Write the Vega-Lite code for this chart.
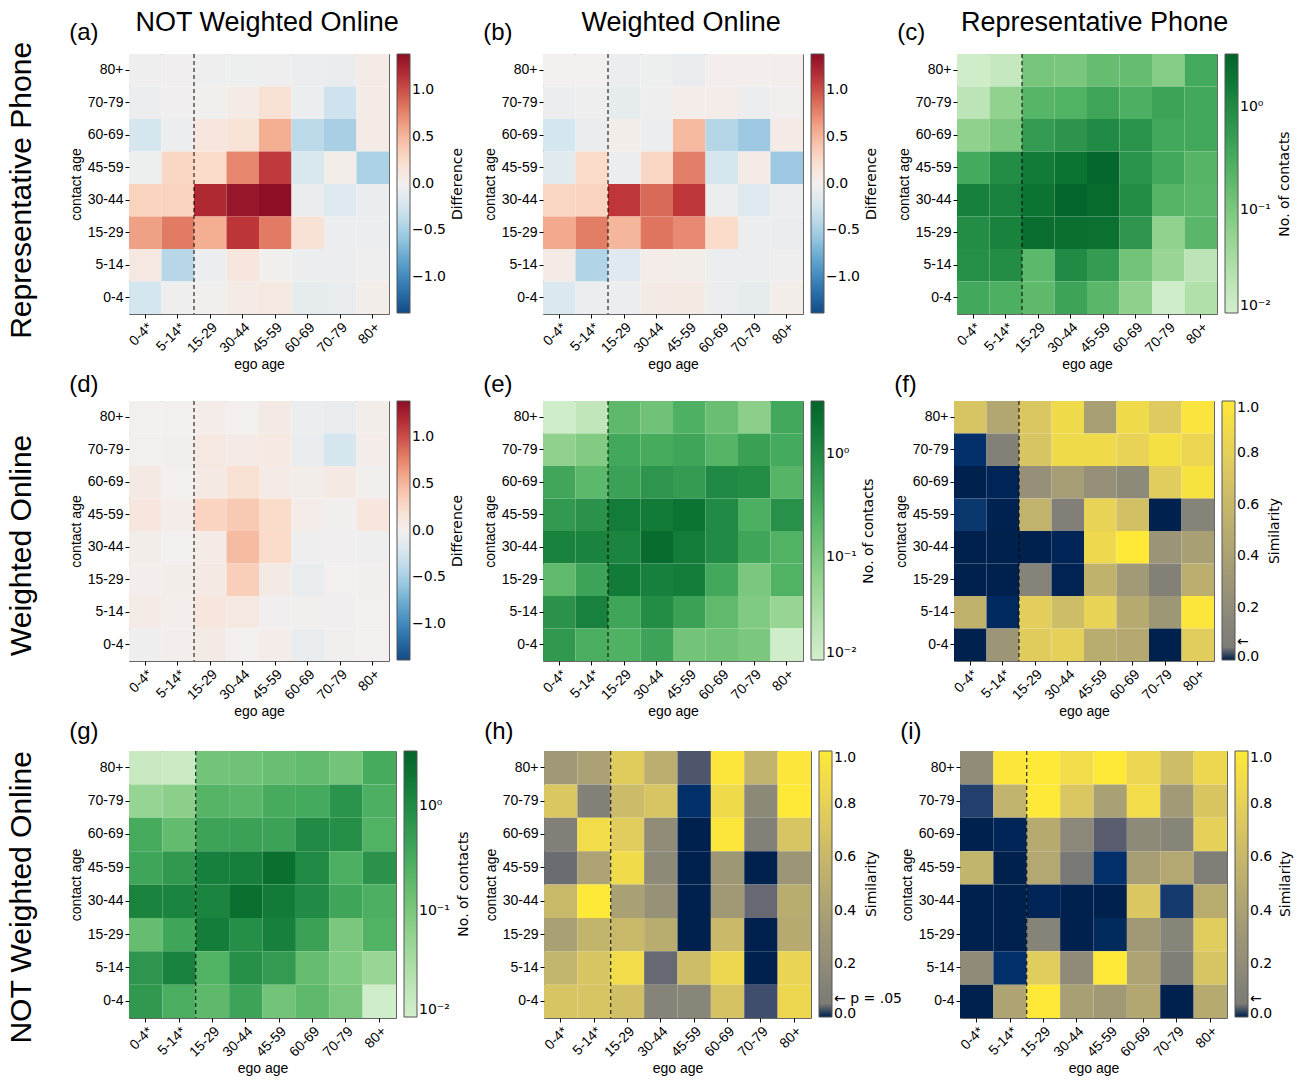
{
"$schema": "https://vega.github.io/schema/vega-lite/v6.json",
"background": "white",
"padding": {"left": 6, "top": 9, "right": 2, "bottom": 2},
"datasets": {
"a": [
{"e":"0-4*","c":"80+","v":-0.03},{"e":"5-14*","c":"80+","v":-0.02},{"e":"15-29","c":"80+","v":-0.03},{"e":"30-44","c":"80+","v":-0.04},{"e":"45-59","c":"80+","v":-0.03},{"e":"60-69","c":"80+","v":-0.05},{"e":"70-79","c":"80+","v":-0.07},{"e":"80+","c":"80+","v":0.05},
{"e":"0-4*","c":"70-79","v":-0.05},{"e":"5-14*","c":"70-79","v":-0.02},{"e":"15-29","c":"70-79","v":-0.01},{"e":"30-44","c":"70-79","v":0.05},{"e":"45-59","c":"70-79","v":0.2},{"e":"60-69","c":"70-79","v":-0.05},{"e":"70-79","c":"70-79","v":-0.3},{"e":"80+","c":"70-79","v":0.05},
{"e":"0-4*","c":"60-69","v":-0.25},{"e":"5-14*","c":"60-69","v":-0.06},{"e":"15-29","c":"60-69","v":0.13},{"e":"30-44","c":"60-69","v":0.17},{"e":"45-59","c":"60-69","v":0.55},{"e":"60-69","c":"60-69","v":-0.4},{"e":"70-79","c":"60-69","v":-0.5},{"e":"80+","c":"60-69","v":0.05},
{"e":"0-4*","c":"45-59","v":-0.04},{"e":"5-14*","c":"45-59","v":0.3},{"e":"15-29","c":"45-59","v":0.27},{"e":"30-44","c":"45-59","v":0.75},{"e":"45-59","c":"45-59","v":1.1},{"e":"60-69","c":"45-59","v":-0.22},{"e":"70-79","c":"45-59","v":0.03},{"e":"80+","c":"45-59","v":-0.48},
{"e":"0-4*","c":"30-44","v":0.33},{"e":"5-14*","c":"30-44","v":0.33},{"e":"15-29","c":"30-44","v":1.2},{"e":"30-44","c":"30-44","v":1.32},{"e":"45-59","c":"30-44","v":1.38},{"e":"60-69","c":"30-44","v":-0.07},{"e":"70-79","c":"30-44","v":-0.18},{"e":"80+","c":"30-44","v":-0.07},
{"e":"0-4*","c":"15-29","v":0.62},{"e":"5-14*","c":"15-29","v":0.8},{"e":"15-29","c":"15-29","v":0.55},{"e":"30-44","c":"15-29","v":1.12},{"e":"45-59","c":"15-29","v":0.8},{"e":"60-69","c":"15-29","v":0.18},{"e":"70-79","c":"15-29","v":-0.05},{"e":"80+","c":"15-29","v":-0.06},
{"e":"0-4*","c":"5-14","v":0.1},{"e":"5-14*","c":"5-14","v":-0.42},{"e":"15-29","c":"5-14","v":-0.05},{"e":"30-44","c":"5-14","v":0.13},{"e":"45-59","c":"5-14","v":-0.01},{"e":"60-69","c":"5-14","v":-0.06},{"e":"70-79","c":"5-14","v":-0.06},{"e":"80+","c":"5-14","v":-0.03},
{"e":"0-4*","c":"0-4","v":-0.26},{"e":"5-14*","c":"0-4","v":-0.03},{"e":"15-29","c":"0-4","v":-0.01},{"e":"30-44","c":"0-4","v":0.06},{"e":"45-59","c":"0-4","v":0.1},{"e":"60-69","c":"0-4","v":-0.1},{"e":"70-79","c":"0-4","v":-0.08},{"e":"80+","c":"0-4","v":0.03}
],
"b": [
{"e":"0-4*","c":"80+","v":0.0},{"e":"5-14*","c":"80+","v":0.0},{"e":"15-29","c":"80+","v":-0.06},{"e":"30-44","c":"80+","v":-0.04},{"e":"45-59","c":"80+","v":-0.08},{"e":"60-69","c":"80+","v":0.02},{"e":"70-79","c":"80+","v":0.02},{"e":"80+","c":"80+","v":0.02},
{"e":"0-4*","c":"70-79","v":-0.05},{"e":"5-14*","c":"70-79","v":-0.03},{"e":"15-29","c":"70-79","v":-0.1},{"e":"30-44","c":"70-79","v":-0.03},{"e":"45-59","c":"70-79","v":0.04},{"e":"60-69","c":"70-79","v":0.04},{"e":"70-79","c":"70-79","v":-0.05},{"e":"80+","c":"70-79","v":0.01},
{"e":"0-4*","c":"60-69","v":-0.26},{"e":"5-14*","c":"60-69","v":-0.07},{"e":"15-29","c":"60-69","v":0.03},{"e":"30-44","c":"60-69","v":-0.05},{"e":"45-59","c":"60-69","v":0.48},{"e":"60-69","c":"60-69","v":-0.43},{"e":"70-79","c":"60-69","v":-0.56},{"e":"80+","c":"60-69","v":0.05},
{"e":"0-4*","c":"45-59","v":-0.15},{"e":"5-14*","c":"45-59","v":0.28},{"e":"15-29","c":"45-59","v":-0.05},{"e":"30-44","c":"45-59","v":0.3},{"e":"45-59","c":"45-59","v":0.78},{"e":"60-69","c":"45-59","v":-0.25},{"e":"70-79","c":"45-59","v":0.05},{"e":"80+","c":"45-59","v":-0.56},
{"e":"0-4*","c":"30-44","v":0.3},{"e":"5-14*","c":"30-44","v":0.33},{"e":"15-29","c":"30-44","v":1.11},{"e":"30-44","c":"30-44","v":0.88},{"e":"45-59","c":"30-44","v":1.11},{"e":"60-69","c":"30-44","v":-0.06},{"e":"70-79","c":"30-44","v":-0.17},{"e":"80+","c":"30-44","v":-0.06},
{"e":"0-4*","c":"15-29","v":0.58},{"e":"5-14*","c":"15-29","v":0.79},{"e":"15-29","c":"15-29","v":0.5},{"e":"30-44","c":"15-29","v":0.83},{"e":"45-59","c":"15-29","v":0.73},{"e":"60-69","c":"15-29","v":0.27},{"e":"70-79","c":"15-29","v":-0.05},{"e":"80+","c":"15-29","v":-0.07},
{"e":"0-4*","c":"5-14","v":0.05},{"e":"5-14*","c":"5-14","v":-0.45},{"e":"15-29","c":"5-14","v":-0.16},{"e":"30-44","c":"5-14","v":0.04},{"e":"45-59","c":"5-14","v":0.03},{"e":"60-69","c":"5-14","v":-0.05},{"e":"70-79","c":"5-14","v":-0.05},{"e":"80+","c":"5-14","v":-0.03},
{"e":"0-4*","c":"0-4","v":-0.2},{"e":"5-14*","c":"0-4","v":-0.05},{"e":"15-29","c":"0-4","v":-0.06},{"e":"30-44","c":"0-4","v":0.07},{"e":"45-59","c":"0-4","v":0.08},{"e":"60-69","c":"0-4","v":-0.06},{"e":"70-79","c":"0-4","v":-0.1},{"e":"80+","c":"0-4","v":0.03}
],
"c": [
{"e":"0-4*","c":"80+","v":0.011},{"e":"5-14*","c":"80+","v":0.015},{"e":"15-29","c":"80+","v":0.11},{"e":"30-44","c":"80+","v":0.105},{"e":"45-59","c":"80+","v":0.16},{"e":"60-69","c":"80+","v":0.16},{"e":"70-79","c":"80+","v":0.08},{"e":"80+","c":"80+","v":0.35},
{"e":"0-4*","c":"70-79","v":0.02},{"e":"5-14*","c":"70-79","v":0.06},{"e":"15-29","c":"70-79","v":0.22},{"e":"30-44","c":"70-79","v":0.25},{"e":"45-59","c":"70-79","v":0.4},{"e":"60-69","c":"70-79","v":0.28},{"e":"70-79","c":"70-79","v":0.42},{"e":"80+","c":"70-79","v":0.36},
{"e":"0-4*","c":"60-69","v":0.062},{"e":"5-14*","c":"60-69","v":0.1},{"e":"15-29","c":"60-69","v":0.55},{"e":"30-44","c":"60-69","v":0.7},{"e":"45-59","c":"60-69","v":1.0},{"e":"60-69","c":"60-69","v":0.72},{"e":"70-79","c":"60-69","v":0.36},{"e":"80+","c":"60-69","v":0.36},
{"e":"0-4*","c":"45-59","v":0.34},{"e":"5-14*","c":"45-59","v":0.95},{"e":"15-29","c":"45-59","v":1.6},{"e":"30-44","c":"45-59","v":2.0},{"e":"45-59","c":"45-59","v":3.0},{"e":"60-69","c":"45-59","v":0.72},{"e":"70-79","c":"45-59","v":0.36},{"e":"80+","c":"45-59","v":0.23},
{"e":"0-4*","c":"30-44","v":1.4},{"e":"5-14*","c":"30-44","v":1.35},{"e":"15-29","c":"30-44","v":2.0},{"e":"30-44","c":"30-44","v":3.2},{"e":"45-59","c":"30-44","v":2.7},{"e":"60-69","c":"30-44","v":0.95},{"e":"70-79","c":"30-44","v":0.23},{"e":"80+","c":"30-44","v":0.21},
{"e":"0-4*","c":"15-29","v":0.95},{"e":"5-14*","c":"15-29","v":1.3},{"e":"15-29","c":"15-29","v":2.4},{"e":"30-44","c":"15-29","v":2.3},{"e":"45-59","c":"15-29","v":2.25},{"e":"60-69","c":"15-29","v":0.68},{"e":"70-79","c":"15-29","v":0.06},{"e":"80+","c":"15-29","v":0.21},
{"e":"0-4*","c":"5-14","v":0.85},{"e":"5-14*","c":"5-14","v":0.95},{"e":"15-29","c":"5-14","v":0.2},{"e":"30-44","c":"5-14","v":1.0},{"e":"45-59","c":"5-14","v":0.55},{"e":"60-69","c":"5-14","v":0.12},{"e":"70-79","c":"5-14","v":0.05},{"e":"80+","c":"5-14","v":0.02},
{"e":"0-4*","c":"0-4","v":0.36},{"e":"5-14*","c":"0-4","v":0.28},{"e":"15-29","c":"0-4","v":0.19},{"e":"30-44","c":"0-4","v":0.42},{"e":"45-59","c":"0-4","v":0.21},{"e":"60-69","c":"0-4","v":0.065},{"e":"70-79","c":"0-4","v":0.011},{"e":"80+","c":"0-4","v":0.027}
],
"d": [
{"e":"0-4*","c":"80+","v":0.0},{"e":"5-14*","c":"80+","v":0.0},{"e":"15-29","c":"80+","v":0.04},{"e":"30-44","c":"80+","v":0.0},{"e":"45-59","c":"80+","v":0.07},{"e":"60-69","c":"80+","v":-0.05},{"e":"70-79","c":"80+","v":-0.08},{"e":"80+","c":"80+","v":0.03},
{"e":"0-4*","c":"70-79","v":0.0},{"e":"5-14*","c":"70-79","v":0.01},{"e":"15-29","c":"70-79","v":0.1},{"e":"30-44","c":"70-79","v":0.06},{"e":"45-59","c":"70-79","v":0.09},{"e":"60-69","c":"70-79","v":-0.09},{"e":"70-79","c":"70-79","v":-0.25},{"e":"80+","c":"70-79","v":0.04},
{"e":"0-4*","c":"60-69","v":0.08},{"e":"5-14*","c":"60-69","v":0.0},{"e":"15-29","c":"60-69","v":0.08},{"e":"30-44","c":"60-69","v":0.2},{"e":"45-59","c":"60-69","v":0.05},{"e":"60-69","c":"60-69","v":0.03},{"e":"70-79","c":"60-69","v":0.08},{"e":"80+","c":"60-69","v":-0.01},
{"e":"0-4*","c":"45-59","v":0.12},{"e":"5-14*","c":"45-59","v":0.04},{"e":"15-29","c":"45-59","v":0.32},{"e":"30-44","c":"45-59","v":0.38},{"e":"45-59","c":"45-59","v":0.26},{"e":"60-69","c":"45-59","v":0.04},{"e":"70-79","c":"45-59","v":-0.01},{"e":"80+","c":"45-59","v":0.12},
{"e":"0-4*","c":"30-44","v":0.03},{"e":"5-14*","c":"30-44","v":0.0},{"e":"15-29","c":"30-44","v":0.06},{"e":"30-44","c":"30-44","v":0.47},{"e":"45-59","c":"30-44","v":0.28},{"e":"60-69","c":"30-44","v":-0.03},{"e":"70-79","c":"30-44","v":-0.02},{"e":"80+","c":"30-44","v":-0.03},
{"e":"0-4*","c":"15-29","v":0.02},{"e":"5-14*","c":"15-29","v":0.03},{"e":"15-29","c":"15-29","v":0.08},{"e":"30-44","c":"15-29","v":0.35},{"e":"45-59","c":"15-29","v":0.07},{"e":"60-69","c":"15-29","v":-0.09},{"e":"70-79","c":"15-29","v":0.0},{"e":"80+","c":"15-29","v":0.01},
{"e":"0-4*","c":"5-14","v":0.05},{"e":"5-14*","c":"5-14","v":0.02},{"e":"15-29","c":"5-14","v":0.12},{"e":"30-44","c":"5-14","v":0.1},{"e":"45-59","c":"5-14","v":-0.02},{"e":"60-69","c":"5-14","v":-0.01},{"e":"70-79","c":"5-14","v":-0.02},{"e":"80+","c":"5-14","v":0.0},
{"e":"0-4*","c":"0-4","v":-0.03},{"e":"5-14*","c":"0-4","v":0.02},{"e":"15-29","c":"0-4","v":0.07},{"e":"30-44","c":"0-4","v":0.0},{"e":"45-59","c":"0-4","v":0.04},{"e":"60-69","c":"0-4","v":-0.08},{"e":"70-79","c":"0-4","v":-0.01},{"e":"80+","c":"0-4","v":0.0}
],
"e": [
{"e":"0-4*","c":"80+","v":0.011},{"e":"5-14*","c":"80+","v":0.018},{"e":"15-29","c":"80+","v":0.19},{"e":"30-44","c":"80+","v":0.13},{"e":"45-59","c":"80+","v":0.27},{"e":"60-69","c":"80+","v":0.15},{"e":"70-79","c":"80+","v":0.07},{"e":"80+","c":"80+","v":0.36},
{"e":"0-4*","c":"70-79","v":0.062},{"e":"5-14*","c":"70-79","v":0.085},{"e":"15-29","c":"70-79","v":0.36},{"e":"30-44","c":"70-79","v":0.32},{"e":"45-59","c":"70-79","v":0.4},{"e":"60-69","c":"70-79","v":0.23},{"e":"70-79","c":"70-79","v":0.47},{"e":"80+","c":"70-79","v":0.34},
{"e":"0-4*","c":"60-69","v":0.38},{"e":"5-14*","c":"60-69","v":0.2},{"e":"15-29","c":"60-69","v":0.46},{"e":"30-44","c":"60-69","v":0.68},{"e":"45-59","c":"60-69","v":0.55},{"e":"60-69","c":"60-69","v":1.05},{"e":"70-79","c":"60-69","v":0.95},{"e":"80+","c":"60-69","v":0.23},
{"e":"0-4*","c":"45-59","v":0.6},{"e":"5-14*","c":"45-59","v":0.75},{"e":"15-29","c":"45-59","v":1.55},{"e":"30-44","c":"45-59","v":1.6},{"e":"45-59","c":"45-59","v":2.0},{"e":"60-69","c":"45-59","v":1.0},{"e":"70-79","c":"45-59","v":0.28},{"e":"80+","c":"45-59","v":0.8},
{"e":"0-4*","c":"30-44","v":1.3},{"e":"5-14*","c":"30-44","v":1.25},{"e":"15-29","c":"30-44","v":1.2},{"e":"30-44","c":"30-44","v":2.6},{"e":"45-59","c":"30-44","v":1.55},{"e":"60-69","c":"30-44","v":1.0},{"e":"70-79","c":"30-44","v":0.4},{"e":"80+","c":"30-44","v":0.25},
{"e":"0-4*","c":"15-29","v":0.18},{"e":"5-14*","c":"15-29","v":0.42},{"e":"15-29","c":"15-29","v":1.6},{"e":"30-44","c":"15-29","v":1.4},{"e":"45-59","c":"15-29","v":1.5},{"e":"60-69","c":"15-29","v":0.36},{"e":"70-79","c":"15-29","v":0.1},{"e":"80+","c":"15-29","v":0.25},
{"e":"0-4*","c":"5-14","v":0.75},{"e":"5-14*","c":"5-14","v":1.35},{"e":"15-29","c":"5-14","v":0.4},{"e":"30-44","c":"5-14","v":0.95},{"e":"45-59","c":"5-14","v":0.46},{"e":"60-69","c":"5-14","v":0.18},{"e":"70-79","c":"5-14","v":0.09},{"e":"80+","c":"5-14","v":0.052},
{"e":"0-4*","c":"0-4","v":0.62},{"e":"5-14*","c":"0-4","v":0.3},{"e":"15-29","c":"0-4","v":0.26},{"e":"30-44","c":"0-4","v":0.42},{"e":"45-59","c":"0-4","v":0.12},{"e":"60-69","c":"0-4","v":0.13},{"e":"70-79","c":"0-4","v":0.1},{"e":"80+","c":"0-4","v":0.011}
],
"f": [
{"e":"0-4*","c":"80+","v":0.7},{"e":"5-14*","c":"80+","v":0.45},{"e":"15-29","c":"80+","v":0.72},{"e":"30-44","c":"80+","v":0.88},{"e":"45-59","c":"80+","v":0.38},{"e":"60-69","c":"80+","v":0.88},{"e":"70-79","c":"80+","v":0.75},{"e":"80+","c":"80+","v":0.97},
{"e":"0-4*","c":"70-79","v":0.009},{"e":"5-14*","c":"70-79","v":0.1},{"e":"15-29","c":"70-79","v":0.7},{"e":"30-44","c":"70-79","v":0.88},{"e":"45-59","c":"70-79","v":0.88},{"e":"60-69","c":"70-79","v":0.82},{"e":"70-79","c":"70-79","v":0.93},{"e":"80+","c":"70-79","v":0.85},
{"e":"0-4*","c":"60-69","v":0.0},{"e":"5-14*","c":"60-69","v":0.003},{"e":"15-29","c":"60-69","v":0.24},{"e":"30-44","c":"60-69","v":0.37},{"e":"45-59","c":"60-69","v":0.24},{"e":"60-69","c":"60-69","v":0.18},{"e":"70-79","c":"60-69","v":0.77},{"e":"80+","c":"60-69","v":0.95},
{"e":"0-4*","c":"45-59","v":0.013},{"e":"5-14*","c":"45-59","v":0.001},{"e":"15-29","c":"45-59","v":0.56},{"e":"30-44","c":"45-59","v":0.08},{"e":"45-59","c":"45-59","v":0.82},{"e":"60-69","c":"45-59","v":0.67},{"e":"70-79","c":"45-59","v":0.0},{"e":"80+","c":"45-59","v":0.12},
{"e":"0-4*","c":"30-44","v":0.0},{"e":"5-14*","c":"30-44","v":0.0},{"e":"15-29","c":"30-44","v":0.0},{"e":"30-44","c":"30-44","v":0.003},{"e":"45-59","c":"30-44","v":0.87},{"e":"60-69","c":"30-44","v":1.0},{"e":"70-79","c":"30-44","v":0.28},{"e":"80+","c":"30-44","v":0.38},
{"e":"0-4*","c":"15-29","v":0.0},{"e":"5-14*","c":"15-29","v":0.0},{"e":"15-29","c":"15-29","v":0.12},{"e":"30-44","c":"15-29","v":0.002},{"e":"45-59","c":"15-29","v":0.55},{"e":"60-69","c":"15-29","v":0.34},{"e":"70-79","c":"15-29","v":0.1},{"e":"80+","c":"15-29","v":0.52},
{"e":"0-4*","c":"5-14","v":0.55},{"e":"5-14*","c":"5-14","v":0.006},{"e":"15-29","c":"5-14","v":0.78},{"e":"30-44","c":"5-14","v":0.64},{"e":"45-59","c":"5-14","v":0.82},{"e":"60-69","c":"5-14","v":0.48},{"e":"70-79","c":"5-14","v":0.31},{"e":"80+","c":"5-14","v":0.98},
{"e":"0-4*","c":"0-4","v":0.0},{"e":"5-14*","c":"0-4","v":0.29},{"e":"15-29","c":"0-4","v":0.76},{"e":"30-44","c":"0-4","v":0.8},{"e":"45-59","c":"0-4","v":0.5},{"e":"60-69","c":"0-4","v":0.47},{"e":"70-79","c":"0-4","v":0.0},{"e":"80+","c":"0-4","v":0.77}
],
"g": [
{"e":"0-4*","c":"80+","v":0.014},{"e":"5-14*","c":"80+","v":0.013},{"e":"15-29","c":"80+","v":0.12},{"e":"30-44","c":"80+","v":0.13},{"e":"45-59","c":"80+","v":0.15},{"e":"60-69","c":"80+","v":0.17},{"e":"70-79","c":"80+","v":0.12},{"e":"80+","c":"80+","v":0.32},
{"e":"0-4*","c":"70-79","v":0.055},{"e":"5-14*","c":"70-79","v":0.07},{"e":"15-29","c":"70-79","v":0.23},{"e":"30-44","c":"70-79","v":0.21},{"e":"45-59","c":"70-79","v":0.32},{"e":"60-69","c":"70-79","v":0.34},{"e":"70-79","c":"70-79","v":0.72},{"e":"80+","c":"70-79","v":0.28},
{"e":"0-4*","c":"60-69","v":0.32},{"e":"5-14*","c":"60-69","v":0.17},{"e":"15-29","c":"60-69","v":0.42},{"e":"30-44","c":"60-69","v":0.46},{"e":"45-59","c":"60-69","v":0.44},{"e":"60-69","c":"60-69","v":1.0},{"e":"70-79","c":"60-69","v":0.88},{"e":"80+","c":"60-69","v":0.25},
{"e":"0-4*","c":"45-59","v":0.4},{"e":"5-14*","c":"45-59","v":0.62},{"e":"15-29","c":"45-59","v":1.4},{"e":"30-44","c":"45-59","v":1.45},{"e":"45-59","c":"45-59","v":2.3},{"e":"60-69","c":"45-59","v":1.0},{"e":"70-79","c":"45-59","v":0.28},{"e":"80+","c":"45-59","v":0.76},
{"e":"0-4*","c":"30-44","v":1.25},{"e":"5-14*","c":"30-44","v":1.2},{"e":"15-29","c":"30-44","v":1.2},{"e":"30-44","c":"30-44","v":2.3},{"e":"45-59","c":"30-44","v":1.6},{"e":"60-69","c":"30-44","v":1.0},{"e":"70-79","c":"30-44","v":0.4},{"e":"80+","c":"30-44","v":0.28},
{"e":"0-4*","c":"15-29","v":0.16},{"e":"5-14*","c":"15-29","v":0.4},{"e":"15-29","c":"15-29","v":1.5},{"e":"30-44","c":"15-29","v":0.88},{"e":"45-59","c":"15-29","v":1.4},{"e":"60-69","c":"15-29","v":0.45},{"e":"70-79","c":"15-29","v":0.1},{"e":"80+","c":"15-29","v":0.25},
{"e":"0-4*","c":"5-14","v":0.68},{"e":"5-14*","c":"5-14","v":1.35},{"e":"15-29","c":"5-14","v":0.25},{"e":"30-44","c":"5-14","v":0.85},{"e":"45-59","c":"5-14","v":0.58},{"e":"60-69","c":"5-14","v":0.16},{"e":"70-79","c":"5-14","v":0.09},{"e":"80+","c":"5-14","v":0.05},
{"e":"0-4*","c":"0-4","v":0.62},{"e":"5-14*","c":"0-4","v":0.3},{"e":"15-29","c":"0-4","v":0.19},{"e":"30-44","c":"0-4","v":0.42},{"e":"45-59","c":"0-4","v":0.12},{"e":"60-69","c":"0-4","v":0.19},{"e":"70-79","c":"0-4","v":0.1},{"e":"80+","c":"0-4","v":0.011}
],
"h": [
{"e":"0-4*","c":"80+","v":0.32},{"e":"5-14*","c":"80+","v":0.4},{"e":"15-29","c":"80+","v":0.76},{"e":"30-44","c":"80+","v":0.52},{"e":"45-59","c":"80+","v":0.03},{"e":"60-69","c":"80+","v":0.98},{"e":"70-79","c":"80+","v":0.56},{"e":"80+","c":"80+","v":0.98},
{"e":"0-4*","c":"70-79","v":0.72},{"e":"5-14*","c":"70-79","v":0.09},{"e":"15-29","c":"70-79","v":0.63},{"e":"30-44","c":"70-79","v":0.7},{"e":"45-59","c":"70-79","v":0.009},{"e":"60-69","c":"70-79","v":0.88},{"e":"70-79","c":"70-79","v":0.17},{"e":"80+","c":"70-79","v":1.0},
{"e":"0-4*","c":"60-69","v":0.08},{"e":"5-14*","c":"60-69","v":0.9},{"e":"15-29","c":"60-69","v":0.77},{"e":"30-44","c":"60-69","v":0.2},{"e":"45-59","c":"60-69","v":0.0},{"e":"60-69","c":"60-69","v":0.98},{"e":"70-79","c":"60-69","v":0.1},{"e":"80+","c":"60-69","v":0.7},
{"e":"0-4*","c":"45-59","v":0.042},{"e":"5-14*","c":"45-59","v":0.41},{"e":"15-29","c":"45-59","v":0.89},{"e":"30-44","c":"45-59","v":0.18},{"e":"45-59","c":"45-59","v":0.0},{"e":"60-69","c":"45-59","v":0.31},{"e":"70-79","c":"45-59","v":0.0},{"e":"80+","c":"45-59","v":0.3},
{"e":"0-4*","c":"30-44","v":0.6},{"e":"5-14*","c":"30-44","v":1.0},{"e":"15-29","c":"30-44","v":0.39},{"e":"30-44","c":"30-44","v":0.25},{"e":"45-59","c":"30-44","v":0.0},{"e":"60-69","c":"30-44","v":0.33},{"e":"70-79","c":"30-44","v":0.04},{"e":"80+","c":"30-44","v":0.5},
{"e":"0-4*","c":"15-29","v":0.39},{"e":"5-14*","c":"15-29","v":0.57},{"e":"15-29","c":"15-29","v":0.6},{"e":"30-44","c":"15-29","v":0.5},{"e":"45-59","c":"15-29","v":0.0},{"e":"60-69","c":"15-29","v":0.61},{"e":"70-79","c":"15-29","v":0.0},{"e":"80+","c":"15-29","v":0.48},
{"e":"0-4*","c":"5-14","v":0.58},{"e":"5-14*","c":"5-14","v":0.7},{"e":"15-29","c":"5-14","v":0.9},{"e":"30-44","c":"5-14","v":0.04},{"e":"45-59","c":"5-14","v":0.64},{"e":"60-69","c":"5-14","v":0.86},{"e":"70-79","c":"5-14","v":0.0},{"e":"80+","c":"5-14","v":0.83},
{"e":"0-4*","c":"0-4","v":0.7},{"e":"5-14*","c":"0-4","v":0.7},{"e":"15-29","c":"0-4","v":0.66},{"e":"30-44","c":"0-4","v":0.12},{"e":"45-59","c":"0-4","v":0.14},{"e":"60-69","c":"0-4","v":0.69},{"e":"70-79","c":"0-4","v":0.025},{"e":"80+","c":"0-4","v":0.86}
],
"i": [
{"e":"0-4*","c":"80+","v":0.2},{"e":"5-14*","c":"80+","v":0.98},{"e":"15-29","c":"80+","v":1.0},{"e":"30-44","c":"80+","v":0.9},{"e":"45-59","c":"80+","v":1.0},{"e":"60-69","c":"80+","v":0.85},{"e":"70-79","c":"80+","v":0.64},{"e":"80+","c":"80+","v":0.86},
{"e":"0-4*","c":"70-79","v":0.018},{"e":"5-14*","c":"70-79","v":0.56},{"e":"15-29","c":"70-79","v":1.0},{"e":"30-44","c":"70-79","v":0.72},{"e":"45-59","c":"70-79","v":0.39},{"e":"60-69","c":"70-79","v":0.9},{"e":"70-79","c":"70-79","v":0.34},{"e":"80+","c":"70-79","v":0.71},
{"e":"0-4*","c":"60-69","v":0.0},{"e":"5-14*","c":"60-69","v":0.003},{"e":"15-29","c":"60-69","v":0.48},{"e":"30-44","c":"60-69","v":0.16},{"e":"45-59","c":"60-69","v":0.034},{"e":"60-69","c":"60-69","v":0.18},{"e":"70-79","c":"60-69","v":0.13},{"e":"80+","c":"60-69","v":0.8},
{"e":"0-4*","c":"45-59","v":0.57},{"e":"5-14*","c":"45-59","v":0.0},{"e":"15-29","c":"45-59","v":0.46},{"e":"30-44","c":"45-59","v":0.048},{"e":"45-59","c":"45-59","v":0.009},{"e":"60-69","c":"45-59","v":0.37},{"e":"70-79","c":"45-59","v":0.46},{"e":"80+","c":"45-59","v":0.06},
{"e":"0-4*","c":"30-44","v":0.0},{"e":"5-14*","c":"30-44","v":0.0},{"e":"15-29","c":"30-44","v":0.003},{"e":"30-44","c":"30-44","v":0.0},{"e":"45-59","c":"30-44","v":0.0},{"e":"60-69","c":"30-44","v":0.72},{"e":"70-79","c":"30-44","v":0.015},{"e":"80+","c":"30-44","v":0.5},
{"e":"0-4*","c":"15-29","v":0.0},{"e":"5-14*","c":"15-29","v":0.0},{"e":"15-29","c":"15-29","v":0.12},{"e":"30-44","c":"15-29","v":0.0},{"e":"45-59","c":"15-29","v":0.005},{"e":"60-69","c":"15-29","v":0.33},{"e":"70-79","c":"15-29","v":0.13},{"e":"80+","c":"15-29","v":0.77},
{"e":"0-4*","c":"5-14","v":0.19},{"e":"5-14*","c":"5-14","v":0.009},{"e":"15-29","c":"5-14","v":0.77},{"e":"30-44","c":"5-14","v":0.19},{"e":"45-59","c":"5-14","v":1.0},{"e":"60-69","c":"5-14","v":0.42},{"e":"70-79","c":"5-14","v":0.07},{"e":"80+","c":"5-14","v":0.7},
{"e":"0-4*","c":"0-4","v":0.0},{"e":"5-14*","c":"0-4","v":0.42},{"e":"15-29","c":"0-4","v":1.0},{"e":"30-44","c":"0-4","v":0.38},{"e":"45-59","c":"0-4","v":0.33},{"e":"60-69","c":"0-4","v":0.45},{"e":"70-79","c":"0-4","v":0.0},{"e":"80+","c":"0-4","v":0.48}
]
},
"spacing": 0,
"resolve": {"scale": {"color": "independent", "x": "independent", "y": "independent"}, "legend": {"color": "independent"}},
"vconcat": [
{
"title": {"text": "Representative Phone", "orient": "left", "anchor": "middle", "frame": "bounds", "fontSize": 30, "offset": 32},
"spacing": 16,
"resolve": {"scale": {"color": "independent", "x": "independent", "y": "independent"}, "legend": {"color": "independent"}},
"hconcat": [
{"title": {"text": "NOT Weighted Online", "anchor": "middle", "fontSize": 27, "offset": -17}, "resolve": {"scale": {"color": "independent"}, "legend": {"color": "independent"}},
 "vconcat": [
 {"title": {"text": "(a)", "offset": 9}, "width": 260, "height": 260, "layer": [
  {"data": {"name": "a"}, "mark": "rect", "encoding": {
   "x": {"field": "e", "type": "nominal", "title": "ego age", "sort": ["0-4*","5-14*","15-29","30-44","45-59","60-69","70-79","80+"], "scale": {"paddingInner": 0, "paddingOuter": 0}},
   "y": {"field": "c", "type": "nominal", "title": "contact age", "sort": ["80+","70-79","60-69","45-59","30-44","15-29","5-14","0-4"], "scale": {"paddingInner": 0, "paddingOuter": 0}},
   "color": {"field": "v", "type": "quantitative", "scale": {"domain": [-1.39, 1.39], "scheme": {"name": "redblue", "extent": [1, 0]}}, "legend": {"title": "Difference", "encode": {"title": {"update": {"angle": {"value": -90}, "dy": {"value": 14}}}}, "values": [-1, -0.5, 0, 0.5, 1], "labelExpr": "replace(format(datum.value, '.1f'), '-', '−')"}}}},
  {"data": {"values": [{}]}, "mark": {"type": "rule", "color": "black", "strokeDash": [4, 3], "strokeWidth": 1}, "encoding": {"x": {"datum": "15-29", "type": "nominal", "bandPosition": 0}}}
 ]}
 ]},
{"title": {"text": "Weighted Online", "anchor": "middle", "fontSize": 27, "offset": -17}, "resolve": {"scale": {"color": "independent"}, "legend": {"color": "independent"}},
 "vconcat": [
 {"title": {"text": "(b)", "offset": 9}, "width": 260, "height": 260, "layer": [
  {"data": {"name": "b"}, "mark": "rect", "encoding": {
   "x": {"field": "e", "type": "nominal", "title": "ego age", "sort": ["0-4*","5-14*","15-29","30-44","45-59","60-69","70-79","80+"], "scale": {"paddingInner": 0, "paddingOuter": 0}},
   "y": {"field": "c", "type": "nominal", "title": "contact age", "sort": ["80+","70-79","60-69","45-59","30-44","15-29","5-14","0-4"], "scale": {"paddingInner": 0, "paddingOuter": 0}},
   "color": {"field": "v", "type": "quantitative", "scale": {"domain": [-1.39, 1.39], "scheme": {"name": "redblue", "extent": [1, 0]}}, "legend": {"title": "Difference", "encode": {"title": {"update": {"angle": {"value": -90}, "dy": {"value": 14}}}}, "values": [-1, -0.5, 0, 0.5, 1], "labelExpr": "replace(format(datum.value, '.1f'), '-', '−')"}}}},
  {"data": {"values": [{}]}, "mark": {"type": "rule", "color": "black", "strokeDash": [4, 3], "strokeWidth": 1}, "encoding": {"x": {"datum": "15-29", "type": "nominal", "bandPosition": 0}}}
 ]}
 ]},
{"title": {"text": "Representative Phone", "anchor": "middle", "fontSize": 27, "offset": -17}, "resolve": {"scale": {"color": "independent"}, "legend": {"color": "independent"}},
 "vconcat": [
 {"title": {"text": "(c)", "offset": 9}, "width": 260, "height": 260, "layer": [
  {"data": {"name": "c"}, "mark": "rect", "encoding": {
   "x": {"field": "e", "type": "nominal", "title": "ego age", "sort": ["0-4*","5-14*","15-29","30-44","45-59","60-69","70-79","80+"], "scale": {"paddingInner": 0, "paddingOuter": 0}},
   "y": {"field": "c", "type": "nominal", "title": "contact age", "sort": ["80+","70-79","60-69","45-59","30-44","15-29","5-14","0-4"], "scale": {"paddingInner": 0, "paddingOuter": 0}},
   "color": {"field": "v", "type": "quantitative", "scale": {"type": "log", "domain": [0.01, 3.3], "scheme": "greens"}, "legend": {"title": "No. of contacts", "encode": {"title": {"update": {"angle": {"value": -90}, "dy": {"value": 16}}}}, "values": [0.01, 0.1, 1], "labelExpr": "datum.value < 0.05 ? '10⁻²' : datum.value < 0.5 ? '10⁻¹' : '10⁰'"}}}},
  {"data": {"values": [{}]}, "mark": {"type": "rule", "color": "black", "strokeDash": [4, 3], "strokeWidth": 1}, "encoding": {"x": {"datum": "15-29", "type": "nominal", "bandPosition": 0}}}
 ]}
 ]}
]
},
{
"title": {"text": "Weighted Online", "orient": "left", "anchor": "middle", "frame": "bounds", "fontSize": 30, "offset": 32},
"spacing": 16,
"resolve": {"scale": {"color": "independent", "x": "independent", "y": "independent"}, "legend": {"color": "independent"}},
"hconcat": [
 {"title": {"text": "(d)"}, "width": 260, "height": 260, "layer": [
  {"data": {"name": "d"}, "mark": "rect", "encoding": {
   "x": {"field": "e", "type": "nominal", "title": "ego age", "sort": ["0-4*","5-14*","15-29","30-44","45-59","60-69","70-79","80+"], "scale": {"paddingInner": 0, "paddingOuter": 0}},
   "y": {"field": "c", "type": "nominal", "title": "contact age", "sort": ["80+","70-79","60-69","45-59","30-44","15-29","5-14","0-4"], "scale": {"paddingInner": 0, "paddingOuter": 0}},
   "color": {"field": "v", "type": "quantitative", "scale": {"domain": [-1.39, 1.39], "scheme": {"name": "redblue", "extent": [1, 0]}}, "legend": {"title": "Difference", "encode": {"title": {"update": {"angle": {"value": -90}, "dy": {"value": 14}}}}, "values": [-1, -0.5, 0, 0.5, 1], "labelExpr": "replace(format(datum.value, '.1f'), '-', '−')"}}}},
  {"data": {"values": [{}]}, "mark": {"type": "rule", "color": "black", "strokeDash": [4, 3], "strokeWidth": 1}, "encoding": {"x": {"datum": "15-29", "type": "nominal", "bandPosition": 0}}}
 ]},
 {"title": {"text": "(e)"}, "width": 260, "height": 260, "layer": [
  {"data": {"name": "e"}, "mark": "rect", "encoding": {
   "x": {"field": "e", "type": "nominal", "title": "ego age", "sort": ["0-4*","5-14*","15-29","30-44","45-59","60-69","70-79","80+"], "scale": {"paddingInner": 0, "paddingOuter": 0}},
   "y": {"field": "c", "type": "nominal", "title": "contact age", "sort": ["80+","70-79","60-69","45-59","30-44","15-29","5-14","0-4"], "scale": {"paddingInner": 0, "paddingOuter": 0}},
   "color": {"field": "v", "type": "quantitative", "scale": {"type": "log", "domain": [0.01, 3.3], "scheme": "greens"}, "legend": {"title": "No. of contacts", "encode": {"title": {"update": {"angle": {"value": -90}, "dy": {"value": 14}}}}, "values": [0.01, 0.1, 1], "labelExpr": "datum.value < 0.05 ? '10⁻²' : datum.value < 0.5 ? '10⁻¹' : '10⁰'"}}}},
  {"data": {"values": [{}]}, "mark": {"type": "rule", "color": "black", "strokeDash": [4, 3], "strokeWidth": 1}, "encoding": {"x": {"datum": "15-29", "type": "nominal", "bandPosition": 0}}}
 ]},
 {"title": {"text": "(f)"}, "width": 260, "height": 260, "layer": [
  {"data": {"name": "f"}, "mark": "rect", "encoding": {
   "x": {"field": "e", "type": "nominal", "title": "ego age", "sort": ["0-4*","5-14*","15-29","30-44","45-59","60-69","70-79","80+"], "scale": {"paddingInner": 0, "paddingOuter": 0}},
   "y": {"field": "c", "type": "nominal", "title": "contact age", "sort": ["80+","70-79","60-69","45-59","30-44","15-29","5-14","0-4"], "scale": {"paddingInner": 0, "paddingOuter": 0}},
   "color": {"field": "v", "type": "quantitative", "scale": {"domain": [0, 0.0111, 0.0222, 0.0333, 0.0444, 0.05, 0.1556, 0.3667, 0.5778, 0.7889, 1], "range": ["#00204d", "#00336f", "#39486b", "#575c6d", "#707173", "#7d7c76", "#8a8779", "#a69d75", "#c4b56c", "#e4cf5b", "#fee838"], "interpolate": "rgb"}, "legend": {"title": "Similarity", "encode": {"title": {"update": {"angle": {"value": -90}, "dy": {"value": 18}}}, "labels": {"update": {"dy": {"signal": "datum.value == 0.05 ? -5 : datum.value == 0 ? 4 : 0"}}}}, "values": [0, 0.05, 0.2, 0.4, 0.6, 0.8, 1], "labelExpr": "datum.value == 0.05 ? '←' : format(datum.value, '.1f')"}}}},
  {"data": {"values": [{}]}, "mark": {"type": "rule", "color": "black", "strokeDash": [4, 3], "strokeWidth": 1}, "encoding": {"x": {"datum": "15-29", "type": "nominal", "bandPosition": 0}}}
 ]}
]
},
{
"title": {"text": "NOT Weighted Online", "orient": "left", "anchor": "middle", "frame": "bounds", "fontSize": 30, "offset": 32},
"spacing": 11,
"resolve": {"scale": {"color": "independent", "x": "independent", "y": "independent"}, "legend": {"color": "independent"}},
"hconcat": [
 {"title": {"text": "(g)", "offset": 7}, "width": 267, "height": 267, "layer": [
  {"data": {"name": "g"}, "mark": "rect", "encoding": {
   "x": {"field": "e", "type": "nominal", "title": "ego age", "sort": ["0-4*","5-14*","15-29","30-44","45-59","60-69","70-79","80+"], "scale": {"paddingInner": 0, "paddingOuter": 0}},
   "y": {"field": "c", "type": "nominal", "title": "contact age", "sort": ["80+","70-79","60-69","45-59","30-44","15-29","5-14","0-4"], "scale": {"paddingInner": 0, "paddingOuter": 0}},
   "color": {"field": "v", "type": "quantitative", "scale": {"type": "log", "domain": [0.01, 3.3], "scheme": "greens"}, "legend": {"title": "No. of contacts", "encode": {"title": {"update": {"angle": {"value": -90}, "dy": {"value": 16}}}}, "gradientLength": 266, "values": [0.01, 0.1, 1], "labelExpr": "datum.value < 0.05 ? '10⁻²' : datum.value < 0.5 ? '10⁻¹' : '10⁰'"}}}},
  {"data": {"values": [{}]}, "mark": {"type": "rule", "color": "black", "strokeDash": [4, 3], "strokeWidth": 1}, "encoding": {"x": {"datum": "15-29", "type": "nominal", "bandPosition": 0}}}
 ]},
 {"spacing": -4, "resolve": {"scale": {"color": "independent", "x": "independent", "y": "independent"}, "legend": {"color": "independent"}},
  "hconcat": [
 {"title": {"text": "(h)", "offset": 7}, "width": 267, "height": 267, "layer": [
  {"data": {"name": "h"}, "mark": "rect", "encoding": {
   "x": {"field": "e", "type": "nominal", "title": "ego age", "sort": ["0-4*","5-14*","15-29","30-44","45-59","60-69","70-79","80+"], "scale": {"paddingInner": 0, "paddingOuter": 0}},
   "y": {"field": "c", "type": "nominal", "title": "contact age", "sort": ["80+","70-79","60-69","45-59","30-44","15-29","5-14","0-4"], "scale": {"paddingInner": 0, "paddingOuter": 0}},
   "color": {"field": "v", "type": "quantitative", "scale": {"domain": [0, 0.0111, 0.0222, 0.0333, 0.0444, 0.05, 0.1556, 0.3667, 0.5778, 0.7889, 1], "range": ["#00204d", "#00336f", "#39486b", "#575c6d", "#707173", "#7d7c76", "#8a8779", "#a69d75", "#c4b56c", "#e4cf5b", "#fee838"], "interpolate": "rgb"}, "legend": {"title": "Similarity", "encode": {"title": {"update": {"angle": {"value": -90}, "dy": {"value": -28}}}, "labels": {"update": {"dy": {"signal": "datum.value == 0.05 ? -5 : datum.value == 0 ? 4 : 0"}}}}, "gradientLength": 266, "values": [0, 0.05, 0.2, 0.4, 0.6, 0.8, 1], "labelExpr": "datum.value == 0.05 ? '← p = .05' : format(datum.value, '.1f')"}}}},
  {"data": {"values": [{}]}, "mark": {"type": "rule", "color": "black", "strokeDash": [4, 3], "strokeWidth": 1}, "encoding": {"x": {"datum": "15-29", "type": "nominal", "bandPosition": 0}}}
 ]},
 {"title": {"text": "(i)", "offset": 7}, "width": 267, "height": 267, "layer": [
  {"data": {"name": "i"}, "mark": "rect", "encoding": {
   "x": {"field": "e", "type": "nominal", "title": "ego age", "sort": ["0-4*","5-14*","15-29","30-44","45-59","60-69","70-79","80+"], "scale": {"paddingInner": 0, "paddingOuter": 0}},
   "y": {"field": "c", "type": "nominal", "title": "contact age", "sort": ["80+","70-79","60-69","45-59","30-44","15-29","5-14","0-4"], "scale": {"paddingInner": 0, "paddingOuter": 0}},
   "color": {"field": "v", "type": "quantitative", "scale": {"domain": [0, 0.0111, 0.0222, 0.0333, 0.0444, 0.05, 0.1556, 0.3667, 0.5778, 0.7889, 1], "range": ["#00204d", "#00336f", "#39486b", "#575c6d", "#707173", "#7d7c76", "#8a8779", "#a69d75", "#c4b56c", "#e4cf5b", "#fee838"], "interpolate": "rgb"}, "legend": {"title": "Similarity", "encode": {"title": {"update": {"angle": {"value": -90}, "dy": {"value": 16}}}, "labels": {"update": {"dy": {"signal": "datum.value == 0.05 ? -5 : datum.value == 0 ? 4 : 0"}}}}, "gradientLength": 266, "values": [0, 0.05, 0.2, 0.4, 0.6, 0.8, 1], "labelExpr": "datum.value == 0.05 ? '←' : format(datum.value, '.1f')"}}}},
  {"data": {"values": [{}]}, "mark": {"type": "rule", "color": "black", "strokeDash": [4, 3], "strokeWidth": 1}, "encoding": {"x": {"datum": "15-29", "type": "nominal", "bandPosition": 0}}}
 ]}
 ]}
]
}
],
"config": {
 "font": "Liberation Sans",
 "view": {"stroke": "#666666", "strokeWidth": 1},
 "title": {"fontSize": 24, "fontWeight": "normal", "font": "Liberation Sans", "anchor": "start", "frame": "bounds", "offset": 4, "color": "black"},
 "axis": {"labelFontSize": 14, "titleFontSize": 14, "titleFontWeight": "normal", "labelFont": "Liberation Sans", "titleFont": "Liberation Sans", "labelColor": "black", "titleColor": "black", "tickColor": "black", "tickSize": 4, "domain": false, "grid": false, "labelPadding": 2},
 "axisX": {"labelAngle": -45, "titlePadding": 2},
 "axisY": {"titlePadding": 4},
 "legend": {"orient": "right", "offset": 8, "padding": 0, "gradientLength": 259, "gradientThickness": 13, "labelFontSize": 14, "labelFont": "DejaVu Sans", "labelColor": "black", "titleFontSize": 14, "titleFont": "DejaVu Sans", "titleFontWeight": "normal", "titleColor": "black", "titleOrient": "right", "titleAnchor": "middle", "gradientStrokeColor": "#555555", "gradientStrokeWidth": 1, "labelOffset": 5, "labelOverlap": false}
}
}
